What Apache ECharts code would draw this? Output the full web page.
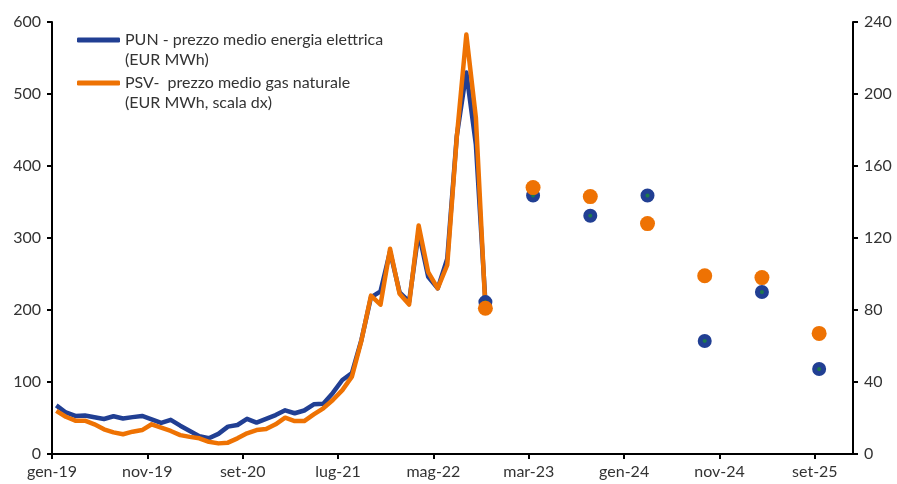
<!DOCTYPE html>
<html>
<head>
<meta charset="utf-8">
<script src="https://cdn.jsdelivr.net/npm/echarts@6/dist/echarts.min.js"></script>
<style>
html, body { margin: 0; padding: 0; background: #fff; }
#chart { width: 897px; height: 484px; }
</style>
</head>
<body>
<div id="chart"></div>
<script>
// nomi dei mesi per le etichette dell'asse x
var monthNames = ['gen', 'feb', 'mar', 'apr', 'mag', 'giu', 'lug', 'ago', 'set', 'ott', 'nov', 'dic'];
var startYear = 2019;
var xTickStep = 10;   // un'etichetta ogni 10 mesi
var xMonths = 84;     // gen-19 .. gen-26

// PUN mensile, gen-19 .. ott-22 (EUR MWh, asse sx)
var punMonthly = [
    67.6, 57.7, 52.9, 53.4, 51.0, 48.6, 52.4, 49.4, 51.2, 52.8, 48.2, 43.2,
    47.5, 39.3, 32.0, 24.8, 21.8, 28.0, 38.0, 40.3, 48.8, 43.6, 48.8, 54.1,
    60.7, 56.6, 60.4, 69.0, 69.9, 84.8, 102.8, 112.4, 158.6, 217.6, 226.0, 281.2,
    224.5, 211.7, 308.1, 246.0, 230.1, 271.3, 441.7, 530.0, 429.9, 211.0
];
// PSV mensile, gen-19 .. ott-22 (EUR MWh, asse dx)
var psvMonthly = [
    24.0, 20.7, 18.5, 18.5, 16.5, 13.7, 12.0, 11.0, 12.4, 13.3, 16.5, 14.6,
    12.8, 10.5, 9.5, 8.7, 6.8, 5.9, 6.3, 8.7, 11.5, 13.3, 13.9, 16.5,
    20.2, 18.3, 18.3, 22.0, 25.4, 30.0, 35.5, 43.0, 63.0, 88.0, 83.0, 114.0,
    89.0, 83.0, 127.0, 101.0, 92.0, 105.0, 176.0, 233.0, 187.0, 81.0
];

// previsioni (punti)
var forecastDates = ['2022-10', '2023-03', '2023-09', '2024-03', '2024-09', '2025-03', '2025-09'];
var punForecast = [211, 359, 331, 359, 157, 225, 118];
var psvForecast = [81, 148, 143, 128, 99, 98, 67];

var blue = '#213F93';
var orange = '#EE7203';
var textColor = '#333333';
var fontFamily = 'Lato, "Open Sans", sans-serif';
var fontSize = 16;

function monthIndex(s) {
    var p = s.split('-');
    return (parseInt(p[0], 10) - startYear) * 12 + parseInt(p[1], 10) - 1;
}
function monthLabel(v) {
    var m = Math.round(v);
    return monthNames[m % 12] + '-' + String(startYear + Math.floor(m / 12)).slice(2);
}
// i valori mensili cadono a metà mese
function seriesData(values) {
    return values.map(function (v, i) { return [i + 0.45, v]; });
}
function forecastData(values) {
    return values.map(function (v, i) { return [monthIndex(forecastDates[i]) + 0.45, v]; });
}

var chart = echarts.init(document.getElementById('chart'));

var axisLine = { show: true, lineStyle: { color: '#000', width: 2 } };
var axisTick = { show: true, inside: false, length: 5, lineStyle: { color: '#000', width: 2 } };
var axisLabel = { color: textColor, fontSize: fontSize, fontFamily: fontFamily, margin: 11 };

var option = {
    animation: false,
    grid: { left: 52, right: 44, top: 22, bottom: 30, containLabel: false },
    legend: {
        orient: 'vertical',
        left: 77,
        top: 31,
        padding: 0,
        itemWidth: 43,
        itemHeight: 5,
        itemGap: 25,
        icon: 'roundRect',
        data: ['PUN - prezzo medio energia elettrica', 'PSV-  prezzo medio gas naturale'],
        textStyle: { color: textColor, fontSize: fontSize, fontFamily: fontFamily, lineHeight: 18 }
    },
    graphic: [
        { type: 'text', left: 125, top: 52, style: { text: '(EUR MWh)', fill: textColor, font: fontSize + 'px ' + fontFamily } },
        { type: 'text', left: 125, top: 95, style: { text: '(EUR MWh, scala dx)', fill: textColor, font: fontSize + 'px ' + fontFamily } }
    ],
    xAxis: {
        type: 'value',
        min: 0,
        max: xMonths,
        interval: xTickStep,
        axisLine: axisLine,
        axisTick: axisTick,
        splitLine: { show: false },
        axisLabel: {
            color: textColor, fontSize: fontSize, fontFamily: fontFamily, margin: 10,
            showMaxLabel: false,
            formatter: monthLabel
        }
    },
    yAxis: [
        {
            type: 'value', min: 0, max: 600, interval: 100, position: 'left',
            axisLine: axisLine, axisTick: axisTick, splitLine: { show: false },
            axisLabel: axisLabel
        },
        {
            type: 'value', min: 0, max: 240, interval: 40, position: 'right',
            axisLine: axisLine, axisTick: axisTick, splitLine: { show: false },
            axisLabel: axisLabel
        }
    ],
    series: [
        {
            name: 'PUN - prezzo medio energia elettrica',
            type: 'line', yAxisIndex: 0, z: 2,
            data: seriesData(punMonthly),
            showSymbol: false,
            lineStyle: { color: blue, width: 4.5, join: 'round' },
            itemStyle: { color: blue }
        },
        {
            name: 'PSV-  prezzo medio gas naturale',
            type: 'line', yAxisIndex: 1, z: 3,
            data: seriesData(psvMonthly),
            showSymbol: false,
            lineStyle: { color: orange, width: 4.5, join: 'round' },
            itemStyle: { color: orange }
        },
        {
            name: 'PUN previsioni',
            type: 'scatter', yAxisIndex: 0, z: 4,
            data: forecastData(punForecast),
            symbolSize: 9,
            itemStyle: { color: '#1E7A4C', borderColor: blue, borderWidth: 5, opacity: 1 }
        },
        {
            name: 'PSV previsioni',
            type: 'scatter', yAxisIndex: 1, z: 5,
            data: forecastData(psvForecast),
            symbolSize: 15,
            itemStyle: { color: orange, opacity: 1 }
        }
    ]
};

chart.setOption(option);
</script>
</body>
</html>
